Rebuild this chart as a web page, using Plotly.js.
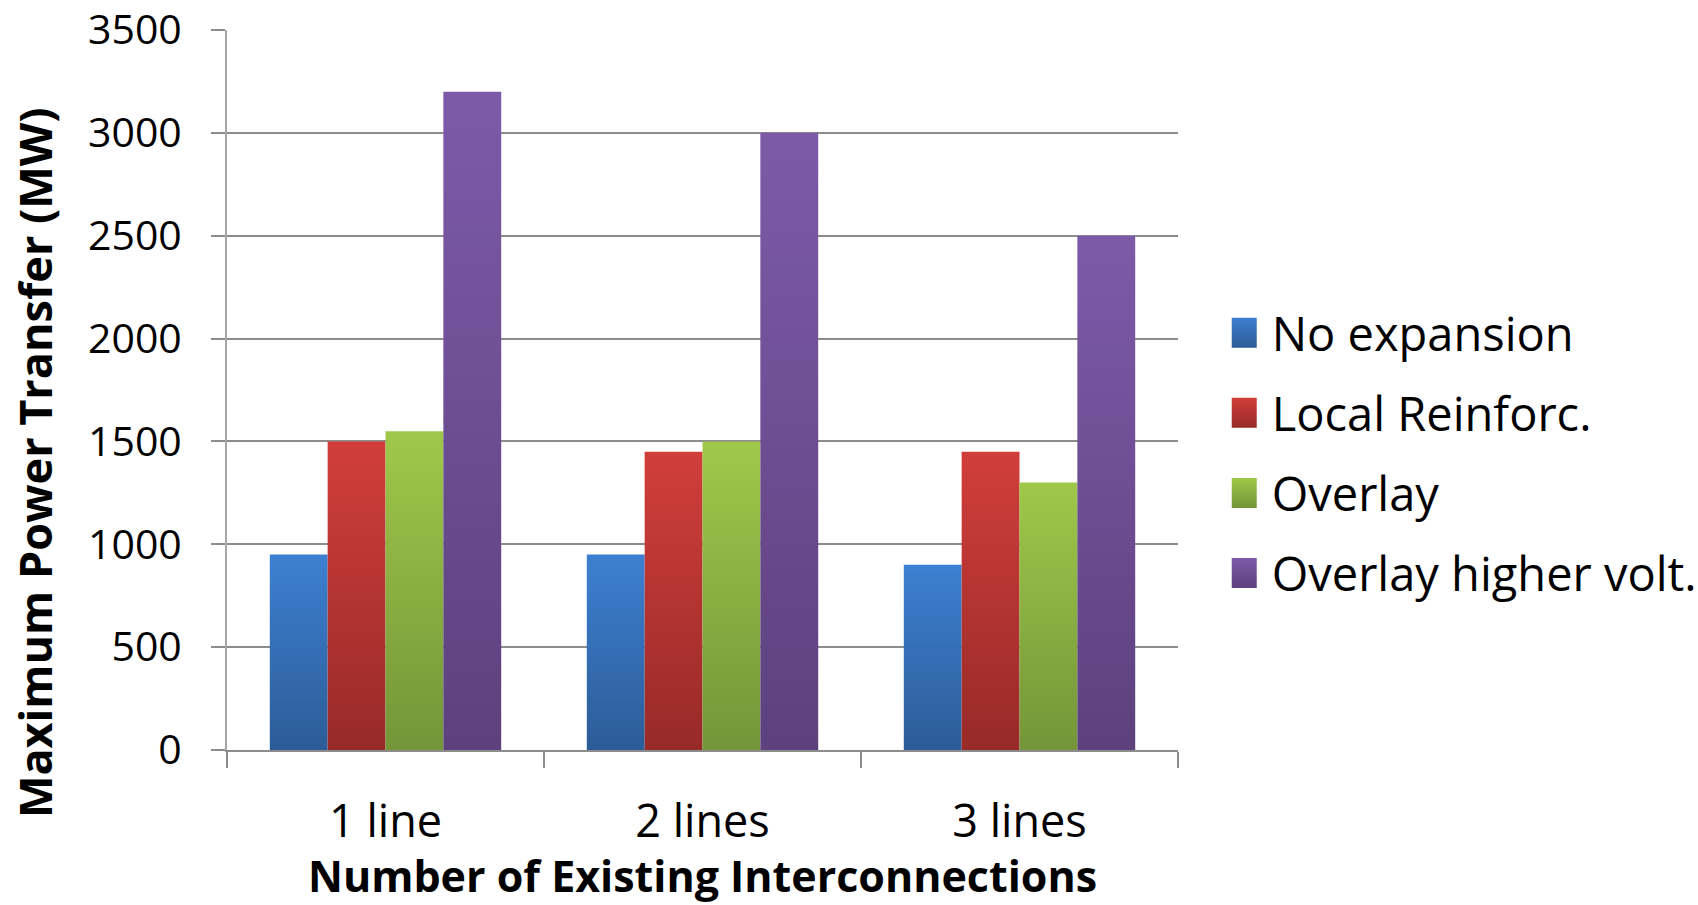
<!DOCTYPE html>
<html>
<head>
<meta charset="utf-8">
<script src="https://cdn.plot.ly/plotly-3.0.1.min.js"></script>
<style>html,body{margin:0;padding:0;background:#fff;}#chart{width:1698px;height:905px;}</style>
</head>
<body>
<div id="chart"></div>
<script>
const categories = ["1 line", "2 lines", "3 lines"];
const seriesNames = ["No expansion", "Local Reinforc.", "Overlay", "Overlay higher volt."];
const noExpansion = [950, 950, 900];
const localReinforc = [1500, 1450, 1450];
const overlay = [1550, 1500, 1300];
const overlayHigherVolt = [3200, 3000, 2500];
const yTickValues = [0, 500, 1000, 1500, 2000, 2500, 3000, 3500];

const seriesValues = [noExpansion, localReinforc, overlay, overlayHigherVolt];
const colors = ["#3571bb", "#b93634", "#8cb043", "#6c4f93"];
// top / bottom shades used for the vertical gradient styling of each series
const gradTop = ["#3d80d1", "#d13e3a", "#9fc84a", "#7d5aa8"];
const gradBottom = ["#2c5c97", "#972a28", "#749538", "#5d417d"];

const traces = seriesValues.map((vals, i) => ({
  type: "bar",
  name: seriesNames[i],
  x: categories,
  y: vals,
  legendgroup: "g" + i,
  marker: { color: colors[i], line: { width: 0 } },
  hoverinfo: "x+y+name"
}));

const layout = {
  width: 1698,
  height: 905,
  margin: { l: 227, r: 520, t: 30, b: 155, autoexpand: false },
  paper_bgcolor: "#ffffff",
  plot_bgcolor: "#ffffff",
  barmode: "group",
  bargap: 0.27,
  bargroupgap: 0,
  font: { family: "Open Sans, sans-serif", color: "#000000" },
  xaxis: {
    type: "category",
    showline: true,
    linecolor: "#8c8c8c",
    linewidth: 2,
    ticks: "outside",
    tickson: "boundaries",
    ticklen: 16,
    tickwidth: 2,
    tickcolor: "#8c8c8c",
    tickfont: { family: "Open Sans, sans-serif", size: 45, color: "#000" },
    ticklabelstandoff: 31,
    showgrid: false,
    automargin: false,
    title: {
      text: "<b>Number of Existing Interconnections</b>",
      font: { family: "Open Sans, sans-serif", size: 43, color: "#000" },
      standoff: 1
    }
  },
  yaxis: {
    range: [0, 3500],
    tickvals: yTickValues,
    ticktext: yTickValues.map(String),
    showline: true,
    linecolor: "#a6a6a6",
    linewidth: 2,
    ticks: "outside",
    ticklen: 14,
    tickwidth: 2,
    tickcolor: "#8c8c8c",
    tickfont: { family: "Open Sans, sans-serif", size: 41, color: "#000" },
    ticklabelstandoff: 21,
    showgrid: true,
    gridcolor: "#8c8c8c",
    gridwidth: 2,
    zeroline: false,
    automargin: false
  },
  showlegend: true,
  legend: {
    x: 1.0565,
    xanchor: "left",
    y: 0.631,
    yanchor: "top",
    traceorder: "grouped",
    tracegroupgap: 16,
    font: { family: "Open Sans, sans-serif", size: 47, color: "#000" },
    bgcolor: "rgba(0,0,0,0)",
    borderwidth: 0
  },
  annotations: [{
    text: "<b>Maximum Power Transfer (MW)</b>",
    textangle: -90,
    xref: "paper", yref: "paper",
    x: -0.2029, y: 0.3986,
    xanchor: "center", yanchor: "middle",
    showarrow: false,
    font: { family: "Open Sans, sans-serif", size: 45, color: "#000" }
  }]
};

function addGradients(gd) {
  const svg = gd.querySelector(".main-svg");
  const NS = "http://www.w3.org/2000/svg";
  let defs = svg.querySelector("defs");
  if (!defs) { defs = document.createElementNS(NS, "defs"); svg.insertBefore(defs, svg.firstChild); }
  colors.forEach((c, i) => {
    const g = document.createElementNS(NS, "linearGradient");
    g.setAttribute("id", "barGrad" + i);
    g.setAttribute("x1", "0"); g.setAttribute("y1", "0");
    g.setAttribute("x2", "0"); g.setAttribute("y2", "1");
    const s1 = document.createElementNS(NS, "stop");
    s1.setAttribute("offset", "0"); s1.setAttribute("stop-color", gradTop[i]);
    const s2 = document.createElementNS(NS, "stop");
    s2.setAttribute("offset", "1"); s2.setAttribute("stop-color", gradBottom[i]);
    g.appendChild(s1); g.appendChild(s2);
    defs.appendChild(g);
  });
  gd.querySelectorAll(".barlayer .trace").forEach((tr, i) => {
    tr.querySelectorAll(".point path").forEach(p => { p.style.fill = "url(#barGrad" + i + ")"; });
  });
  gd.querySelectorAll(".legend .traces").forEach((tr, i) => {
    tr.querySelectorAll(".legendpoints path").forEach(p => {
      p.setAttribute("transform", (p.getAttribute("transform") || "") + " translate(-10,0) scale(2.5)");
      p.style.fill = "url(#barGrad" + i + ")";
    });
  });
}

Plotly.newPlot("chart", traces, layout, { displayModeBar: false, responsive: false }).then(gd => addGradients(gd));
</script>
</body>
</html>
